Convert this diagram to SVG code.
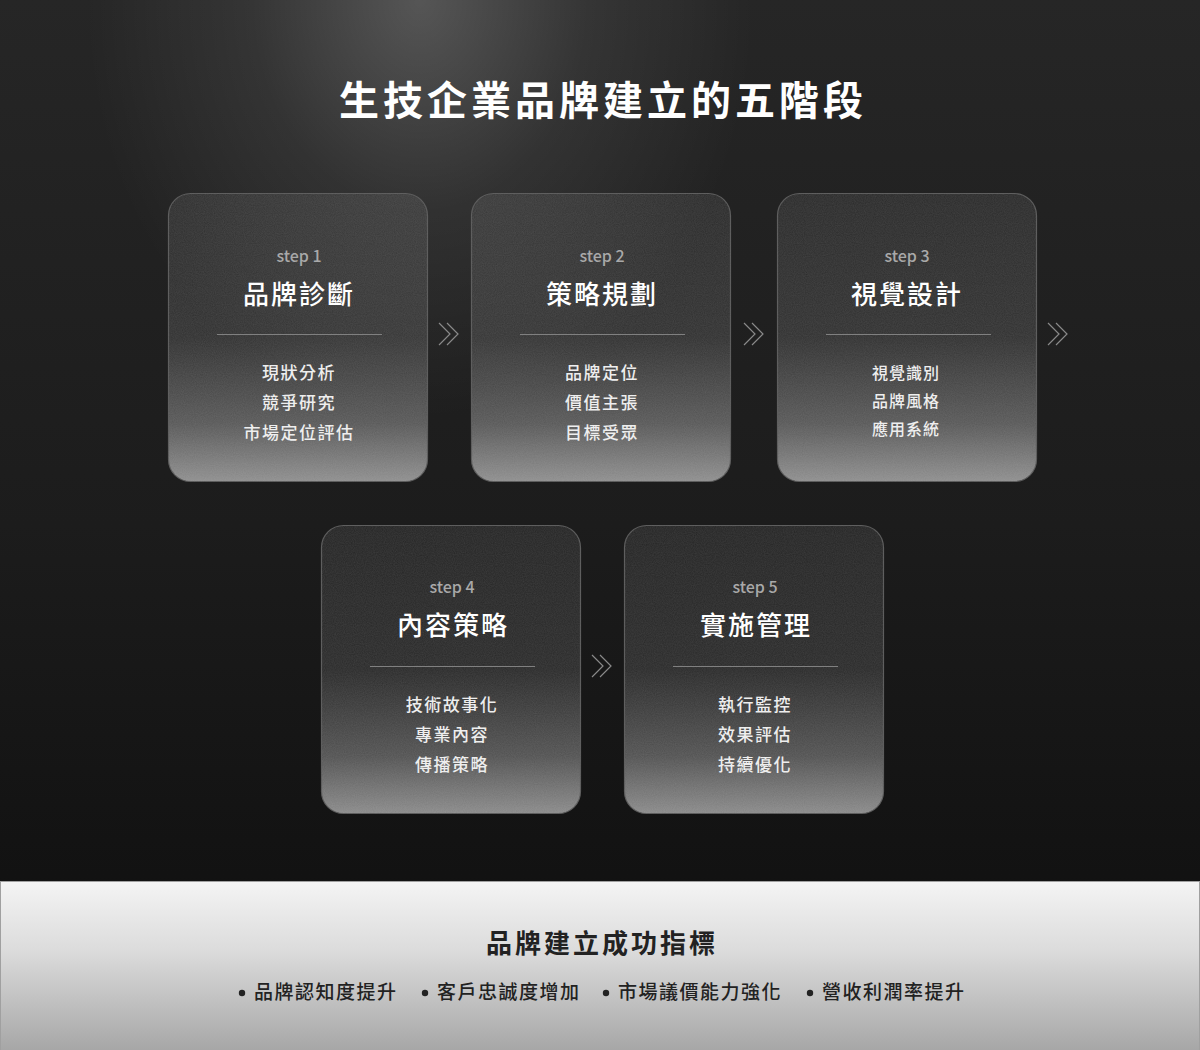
<svg xmlns="http://www.w3.org/2000/svg" width="1200" height="1050" viewBox="0 0 1200 1050">
<defs>
<linearGradient id="bg" x1="0" y1="0" x2="0" y2="1">
<stop offset="0" stop-color="#262626"/>
<stop offset="0.5" stop-color="#1c1c1c"/>
<stop offset="1" stop-color="#0d0d0d"/>
</linearGradient>
<radialGradient id="spot" cx="420" cy="0" r="420" gradientUnits="userSpaceOnUse" gradientTransform="translate(420 0) scale(0.8 1) translate(-420 0)">
<stop offset="0" stop-color="#ffffff" stop-opacity="0.22"/>
<stop offset="0.5" stop-color="#ffffff" stop-opacity="0.07"/>
<stop offset="1" stop-color="#ffffff" stop-opacity="0"/>
</radialGradient>
<linearGradient id="card" x1="0" y1="0" x2="0" y2="1">
<stop offset="0" stop-color="#ffffff" stop-opacity="0.04"/>
<stop offset="0.5" stop-color="#ffffff" stop-opacity="0.08"/>
<stop offset="0.8" stop-color="#ffffff" stop-opacity="0.26"/>
<stop offset="1" stop-color="#ffffff" stop-opacity="0.5"/>
</linearGradient>
<linearGradient id="panel" x1="0" y1="0" x2="0" y2="1">
<stop offset="0" stop-color="#f4f4f4"/>
<stop offset="0.4" stop-color="#dcdcdc"/>
<stop offset="1" stop-color="#a6a6a6"/>
</linearGradient>
<filter id="noise" x="0" y="0" width="100%" height="100%">
<feTurbulence type="fractalNoise" baseFrequency="0.9" numOctaves="2" seed="3" result="n"/>
<feColorMatrix in="n" type="matrix" values="0 0 0 0 1  0 0 0 0 1  0 0 0 0 1  0 0 0 0.1 0"/>
<feComposite in2="SourceGraphic" operator="in"/>
</filter>
<g id="chev">
<polyline points="-10,-11 1,0 -10,11" />
<polyline points="-2,-11 9,0 -2,11" />
</g>
</defs>
<style>
.t{font-family:"Noto Sans CJK TC","Noto Sans",sans-serif;text-anchor:middle}
.main{font-size:40px;font-weight:700;fill:#ffffff;letter-spacing:4px}
.step{font-size:16px;font-weight:500;fill:#a9a9a9}
.ttl{font-size:26px;fill:#ffffff;font-weight:500;letter-spacing:2px}
.item{font-size:17px;fill:#eeeeee;font-weight:500;letter-spacing:1.5px}
.item3{font-size:16px;fill:#eeeeee;font-weight:500;letter-spacing:1px}
.cardbox{fill:url(#card);stroke:#5a5a5a;stroke-width:1.2}
.div{stroke:#808080;stroke-width:1}
.arrow{fill:none;stroke:#8a8a8a;stroke-width:1.2}
.ptitle{font-size:26px;font-weight:700;fill:#222222;letter-spacing:3px}
.pitem{font-family:"Noto Sans CJK TC","Noto Sans",sans-serif;font-size:19px;font-weight:500;fill:#222222;letter-spacing:1.5px}
</style>
<rect x="0" y="0" width="1200" height="1050" fill="url(#bg)"/>
<rect x="0" y="0" width="1200" height="880" fill="url(#spot)"/>
<text class="t main" x="603" y="115">生技企業品牌建立的五階段</text>

<g id="connectors">
<use href="#chev" class="arrow" transform="translate(449 334)"/>
<use href="#chev" class="arrow" transform="translate(754 334)"/>
<use href="#chev" class="arrow" transform="translate(1058 334)"/>
<use href="#chev" class="arrow" transform="translate(602 666)"/>
</g>

<g id="step1">
<rect class="cardbox" x="168.5" y="193.5" width="259" height="288" rx="22"/>
<rect x="168.5" y="193.5" width="259" height="288" rx="22" fill="#fff" filter="url(#noise)"/>
<text class="t step" x="299" y="262">step 1</text>
<text class="t ttl" x="299" y="304">品牌診斷</text>
<line class="div" x1="217" y1="334.5" x2="382" y2="334.5"/>
<text class="t item" x="299" y="379">現狀分析</text>
<text class="t item" x="299" y="409">競爭研究</text>
<text class="t item" x="299" y="439">市場定位評估</text>
</g>

<g id="step2">
<rect class="cardbox" x="471.5" y="193.5" width="259" height="288" rx="22"/>
<rect x="471.5" y="193.5" width="259" height="288" rx="22" fill="#fff" filter="url(#noise)"/>
<text class="t step" x="602" y="262">step 2</text>
<text class="t ttl" x="602" y="304">策略規劃</text>
<line class="div" x1="520" y1="334.5" x2="685" y2="334.5"/>
<text class="t item" x="602" y="379">品牌定位</text>
<text class="t item" x="602" y="409">價值主張</text>
<text class="t item" x="602" y="439">目標受眾</text>
</g>

<g id="step3">
<rect class="cardbox" x="777.5" y="193.5" width="259" height="288" rx="22"/>
<rect x="777.5" y="193.5" width="259" height="288" rx="22" fill="#fff" filter="url(#noise)"/>
<text class="t step" x="907" y="262">step 3</text>
<text class="t ttl" x="907" y="304">視覺設計</text>
<line class="div" x1="826" y1="334.5" x2="991" y2="334.5"/>
<text class="t item3" x="906" y="379">視覺識別</text>
<text class="t item3" x="906" y="407">品牌風格</text>
<text class="t item3" x="906" y="435">應用系統</text>
</g>

<g id="step4">
<rect class="cardbox" x="321.5" y="525.5" width="259" height="288" rx="22"/>
<rect x="321.5" y="525.5" width="259" height="288" rx="22" fill="#fff" filter="url(#noise)"/>
<text class="t step" x="452" y="593">step 4</text>
<text class="t ttl" x="453" y="635">內容策略</text>
<line class="div" x1="370" y1="666.5" x2="535" y2="666.5"/>
<text class="t item" x="452" y="711">技術故事化</text>
<text class="t item" x="452" y="741">專業內容</text>
<text class="t item" x="452" y="771">傳播策略</text>
</g>

<g id="step5">
<rect class="cardbox" x="624.5" y="525.5" width="259" height="288" rx="22"/>
<rect x="624.5" y="525.5" width="259" height="288" rx="22" fill="#fff" filter="url(#noise)"/>
<text class="t step" x="755" y="593">step 5</text>
<text class="t ttl" x="756" y="635">實施管理</text>
<line class="div" x1="673" y1="666.5" x2="838" y2="666.5"/>
<text class="t item" x="755" y="711">執行監控</text>
<text class="t item" x="755" y="741">效果評估</text>
<text class="t item" x="755" y="771">持續優化</text>
</g>

<g id="indicators">
<rect x="0.5" y="881.5" width="1199" height="170" fill="url(#panel)" stroke="#a0a0a0" stroke-width="1"/>
<text class="t ptitle" x="602" y="953">品牌建立成功指標</text>
<circle cx="242" cy="993" r="3.2" fill="#222"/>
<text class="pitem" x="254" y="999">品牌認知度提升</text>
<circle cx="425" cy="993" r="3.2" fill="#222"/>
<text class="pitem" x="437" y="999">客戶忠誠度增加</text>
<circle cx="606" cy="993" r="3.2" fill="#222"/>
<text class="pitem" x="618" y="999">市場議價能力強化</text>
<circle cx="810" cy="993" r="3.2" fill="#222"/>
<text class="pitem" x="822" y="999">營收利潤率提升</text>
</g>
</svg>
